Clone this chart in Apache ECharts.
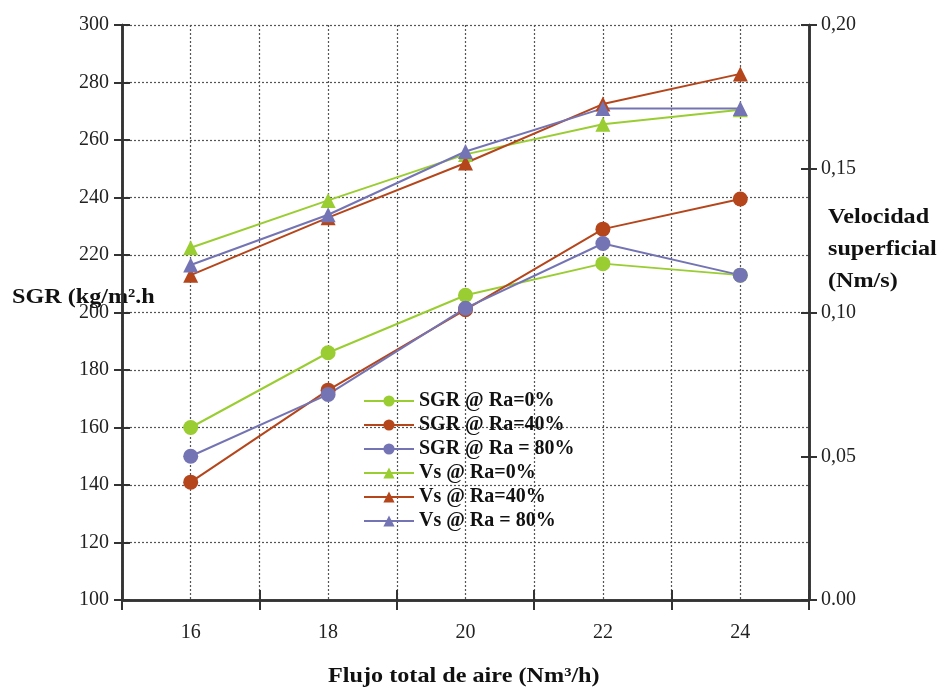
<!DOCTYPE html>
<html><head><meta charset="utf-8">
<script src="https://cdn.jsdelivr.net/npm/echarts@6/dist/echarts.min.js"></script>
<style>html,body{margin:0;padding:0;background:#fff}#c{width:947px;height:691px}</style>
</head><body><div id="c"></div>
<script>
const categories = ['16','18','20','22','24'];
const sgrRa0 = [160, 186, 206, 217, 213];
const sgrRa40 = [141, 173, 201, 229, 239.5];
const sgrRa80 = [150, 171.5, 201.5, 224, 213];
const vsRa0 = [0.1225, 0.139, 0.155, 0.1655, 0.1705];
const vsRa40 = [0.113, 0.133, 0.152, 0.1725, 0.183];
const vsRa80 = [0.1165, 0.134, 0.156, 0.171, 0.171];
const leftTicks = {min:100, max:300, interval:20};
const rightTicks = {min:0, max:0.2, interval:0.05};

const GREEN = '#9acd32', BROWN = '#b5461c', PURPLE = '#7474b4';
const FONT = 'Liberation Serif';
const chart = echarts.init(document.getElementById('c'));

function mk(name, data, color, symbol, yIdx){
  return {name, type:'line', data, xAxisIndex:0, yAxisIndex:yIdx,
    symbol, symbolSize:15, showSymbol:true,
    lineStyle:{color, width:2}, itemStyle:{color},
    emphasis:{disabled:true}, animation:false, z:3};
}
const gridLine = {show:true, lineStyle:{color:'#555', type:[2,2], width:1.2}};
const axLine = {show:true, lineStyle:{color:'#333', width:2.5}};
const tickStyle = {color:'#333', width:2};
const hiddenLabel = {show:true, color:'rgba(0,0,0,0)', inside:true};

chart.setOption({
  animation:false,
  backgroundColor:'#fff',
  grid:{left:122, right:138, top:25, bottom:91},
  legend:{
    left:358, top:386, orient:'vertical', itemWidth:50, itemHeight:14, itemGap:4,
    textStyle:{fontFamily:FONT, fontWeight:'bold', fontSize:20, color:'#111'},
    data:['SGR @ Ra=0%','SGR @ Ra=40%','SGR @ Ra = 80%','Vs @ Ra=0%','Vs @ Ra=40%','Vs @ Ra = 80%']
  },
  xAxis:[
    {type:'category', data:categories, boundaryGap:true, position:'bottom',
     axisLine:axLine, axisTick:{show:true, length:10, lineStyle:tickStyle},
     axisLabel:{fontFamily:FONT, fontSize:20, color:'#222', margin:23},
     splitLine:{show:false}},
    {type:'value', min:15, max:25, interval:1, position:'bottom',
     axisLine:{show:false}, axisTick:{show:false}, axisLabel:{show:false},
     splitLine:gridLine},
    {type:'category', data:categories, boundaryGap:true, position:'bottom',
     axisLine:axLine, axisTick:{show:true, inside:true, length:10, lineStyle:tickStyle},
     axisLabel:hiddenLabel, splitLine:{show:false}}
  ],
  yAxis:[
    {type:'value', position:'left', min:leftTicks.min, max:leftTicks.max, interval:leftTicks.interval,
     axisLine:axLine, axisTick:{show:true, length:8, lineStyle:tickStyle},
     axisLabel:{fontFamily:FONT, fontSize:20, color:'#222', margin:13},
     splitLine:gridLine},
    {type:'value', position:'right', min:rightTicks.min, max:rightTicks.max, interval:rightTicks.interval,
     axisLine:axLine, axisTick:{show:true, length:8, lineStyle:tickStyle},
     axisLabel:{fontFamily:FONT, fontSize:20, color:'#222', margin:12,
       formatter:v => v===0 ? '0.00' : v.toFixed(2).replace('.',',')},
     splitLine:{show:false}},
    {type:'value', position:'left', min:leftTicks.min, max:leftTicks.max, interval:leftTicks.interval,
     axisLine:axLine, axisTick:{show:true, inside:true, length:8, lineStyle:tickStyle},
     axisLabel:hiddenLabel, splitLine:{show:false}},
    {type:'value', position:'right', min:rightTicks.min, max:rightTicks.max, interval:rightTicks.interval,
     axisLine:axLine, axisTick:{show:true, inside:true, length:8, lineStyle:tickStyle},
     axisLabel:hiddenLabel, splitLine:{show:false}}
  ],
  graphic:[
    {type:'text', x:12, y:287, scaleX:1.15, style:{text:'SGR (kg/m².h', font:'bold 21px "Liberation Serif"', fill:'#111', verticalAlign:'top'}},
    {type:'text', x:828, y:202, scaleX:1.15, style:{text:'Velocidad\nsuperficial\n(Nm/s)', font:'bold 21px "Liberation Serif"', lineHeight:32, fill:'#111', verticalAlign:'top'}},
    {type:'text', x:328, y:665, scaleX:1.1, style:{text:'Flujo total de aire (Nm³/h)', font:'bold 22px "Liberation Serif"', fill:'#111', verticalAlign:'top'}}
  ],
  series:[
    mk('SGR @ Ra=0%', sgrRa0, GREEN, 'circle', 0),
    mk('SGR @ Ra=40%', sgrRa40, BROWN, 'circle', 0),
    mk('SGR @ Ra = 80%', sgrRa80, PURPLE, 'circle', 0),
    mk('Vs @ Ra=0%', vsRa0, GREEN, 'triangle', 1),
    mk('Vs @ Ra=40%', vsRa40, BROWN, 'triangle', 1),
    mk('Vs @ Ra = 80%', vsRa80, PURPLE, 'triangle', 1)
  ]
});
</script></body></html>
